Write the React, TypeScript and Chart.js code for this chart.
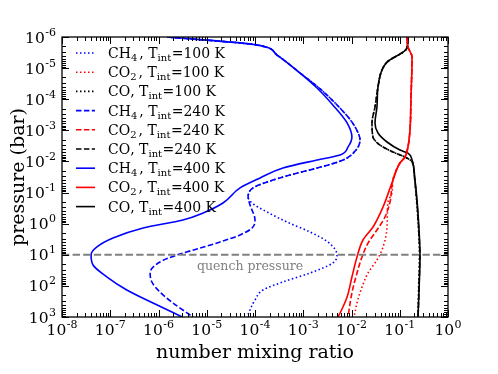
import React, { useEffect, useRef } from "react";
import { Chart, registerables } from "chart.js";
Chart.register(...registerables);

// ---------- data (pressure in bar, number mixing ratio) ----------
const ch4_100_p = [1e-6, 1.81e-6, 3.8e-6, 1.44e-5, 4.05e-5, 1.43e-4, 5.4e-4, 1.41e-3, 2.05e-3, 4.3e-3, 9.0e-3, 1.63e-2, 2.73e-2, 4.6e-2, 7.1e-2, 0.139, 0.217, 0.42, 0.885, 1.85, 3.9, 10.2, 18.4, 38.5, 75, 135, 284, 1000];
const ch4_100_x = [1.5e-6, 1.1e-4, 2.86e-4, 8.6e-4, 2.02e-3, 4.8e-3, 1.02e-2, 1.43e-2, 1.5e-2, 1.24e-2, 6.7e-3, 1.93e-3, 5.3e-4, 1.77e-4, 9.1e-5, 7.2e-5, 8.7e-5, 1.77e-4, 4.6e-4, 1.38e-3, 3.26e-3, 5.0e-3, 4.1e-3, 1.38e-3, 3.8e-4, 1.47e-4, 1.0e-4, 6.8e-5];

const co2_100_p = [6e-7, 1e-6, 2.1e-6, 4.4e-6, 8.5e-5, 9.7e-4, 3.4e-3, 7.2e-3, 0.0112, 0.0395, 0.103, 0.201, 1.28, 5.6, 14.7, 38.5, 109, 355, 1000];
const co2_100_x = [0.135, 0.141, 0.148, 0.18, 0.171, 0.163, 0.148, 0.1285, 0.101, 0.0724, 0.069, 0.057, 0.0545, 0.045, 0.0337, 0.022, 0.0165, 0.013, 0.0113];

const co_100_p = [6e-7, 1e-6, 2.26e-6, 6.4e-6, 1.15e-5, 4.05e-5, 1.78e-4, 5.8e-4, 1.64e-3, 2.97e-3, 4.98e-3, 7.2e-3, 1.04e-2, 2.18e-2, 0.174, 1.6, 10.2, 135, 1000];
const co_100_x = [0.148, 0.148, 0.141, 0.0545, 0.0428, 0.0354, 0.0307, 0.0266, 0.0279, 0.039, 0.0724, 0.1285, 0.18, 0.197, 0.222, 0.245, 0.255, 0.245, 0.237];

const ch4_240_p = [1e-6, 1.81e-6, 3.8e-6, 1.44e-5, 4.05e-5, 1.43e-4, 5.4e-4, 1.41e-3, 2.05e-3, 4.3e-3, 9.0e-3, 1.63e-2, 2.73e-2, 4.6e-2, 7.1e-2, 0.139, 0.251, 0.76, 1.38, 2.3, 3.9, 6.1, 10.2, 17.1, 38.5, 75, 157, 355, 1000];
const ch4_240_x = [1.5e-6, 1.1e-4, 2.86e-4, 8.6e-4, 2.02e-3, 4.8e-3, 1.02e-2, 1.43e-2, 1.5e-2, 1.24e-2, 6.7e-3, 1.93e-3, 5.3e-4, 1.77e-4, 9.1e-5, 7.2e-5, 7.9e-5, 1.0e-4, 8.7e-5, 4.9e-5, 1.88e-5, 7.2e-6, 2.4e-6, 1.07e-6, 6.7e-7, 7.3e-7, 1.07e-6, 2.0e-6, 5.2e-6];

const co2_240_p = [6e-7, 1e-6, 2.1e-6, 4.4e-6, 8.5e-5, 9.7e-4, 3.4e-3, 7.2e-3, 0.0112, 0.0395, 0.201, 0.61, 1.6, 4.2, 11.8, 38.5, 169, 1000];
const co2_240_x = [0.135, 0.141, 0.148, 0.18, 0.171, 0.163, 0.148, 0.1285, 0.101, 0.0724, 0.0628, 0.0494, 0.0337, 0.022, 0.0165, 0.013, 0.0102, 8.45e-3];

const co_240_p = [6e-7, 1e-6, 2.26e-6, 6.4e-6, 1.15e-5, 4.05e-5, 1.78e-4, 5.8e-4, 1.64e-3, 2.97e-3, 4.98e-3, 7.2e-3, 1.04e-2, 2.18e-2, 0.174, 1.6, 10.2, 135, 1000];
const co_240_x = [0.148, 0.148, 0.141, 0.0545, 0.0428, 0.0354, 0.0307, 0.0266, 0.0279, 0.039, 0.0724, 0.1285, 0.18, 0.197, 0.225, 0.248, 0.26, 0.25, 0.24];

const ch4_400_p = [1e-6, 1.81e-6, 3.8e-6, 1.44e-5, 4.36e-5, 1.53e-4, 5.8e-4, 1.64e-3, 3.4e-3, 6.2e-3, 9.0e-3, 1.63e-2, 3.4e-2, 7.1e-2, 0.217, 0.454, 0.76, 1.38, 2.9, 5.6, 10.2, 21.3, 51.9, 135, 355, 1000];
const ch4_400_x = [1.5e-6, 1.1e-4, 2.86e-4, 8.6e-4, 1.93e-3, 4.1e-3, 8.1e-3, 1.02e-2, 8.5e-3, 5.8e-3, 1.93e-3, 3.8e-4, 1.27e-4, 4.9e-5, 2.17e-5, 8.4e-6, 3.2e-6, 4.8e-7, 1.14e-7, 5.3e-8, 4.0e-8, 4.4e-8, 8.6e-8, 2.2e-7, 7.7e-7, 3.1e-6];

const co2_400_p = [6e-7, 1e-6, 2.1e-6, 4.4e-6, 8.5e-5, 9.7e-4, 3.4e-3, 7.2e-3, 0.0112, 0.0395, 0.291, 1.28, 3.35, 11.8, 51.9, 228, 745, 1000];
const co2_400_x = [0.135, 0.141, 0.148, 0.18, 0.171, 0.163, 0.148, 0.1285, 0.101, 0.0724, 0.045, 0.0279, 0.0173, 0.013, 0.0102, 8.1e-3, 5.8e-3, 5.25e-3];

const co_400_p = [6e-7, 1e-6, 2.26e-6, 6.4e-6, 1.15e-5, 4.05e-5, 1.78e-4, 5.8e-4, 1.22e-3, 2.37e-3, 4.3e-3, 5.4e-3, 9.0e-3, 0.0395, 0.174, 1.6, 10.2, 135, 1000];
const co_400_x = [0.148, 0.148, 0.141, 0.0545, 0.0428, 0.0354, 0.0337, 0.0307, 0.0354, 0.0545, 0.101, 0.148, 0.18, 0.207, 0.228, 0.251, 0.263, 0.251, 0.239];

// legend pieces
const speciesBase = ["CH", "CO", "CO"];
const speciesSub = ["4", "2", ""];
const tintValues = [100, 240, 400];

// axes
const xMin = 1e-8, xMax = 1;
const yMin = 1e-6, yMax = 1e3;
const xTickExponents = [-8, -7, -6, -5, -4, -3, -2, -1, 0];
const yTickExponents = [-6, -5, -4, -3, -2, -1, 0, 1, 2, 3];
const xTitle = "number mixing ratio";
const yTitle = "pressure (bar)";
const quenchPressure = 10;
const quenchLabel = "quench pressure";

const SERIF = "'DejaVu Serif', serif";
const colors = ["#0000ff", "#ff0000", "#000000"];
const dashes = [[1.5, 2.5], [5.5, 2.4], []];

const seriesP = [ch4_100_p, co2_100_p, co_100_p, ch4_240_p, co2_240_p, co_240_p, ch4_400_p, co2_400_p, co_400_p];
const seriesX = [ch4_100_x, co2_100_x, co_100_x, ch4_240_x, co2_240_x, co_240_x, ch4_400_x, co2_400_x, co_400_x];

function drawPow(ctx: CanvasRenderingContext2D, exp: number, x: number, baseY: number, align: "center" | "right") {
  ctx.font = `15.5px ${SERIF}`;
  const wb = ctx.measureText("10").width;
  ctx.font = `11px ${SERIF}`;
  const es = String(exp);
  const we = ctx.measureText(es).width;
  const total = wb + we + 0.5;
  const x0 = align === "center" ? x - total / 2 : x - total;
  ctx.textAlign = "left";
  ctx.textBaseline = "alphabetic";
  ctx.font = `15.5px ${SERIF}`;
  ctx.fillText("10", x0, baseY);
  ctx.font = `11px ${SERIF}`;
  ctx.fillText(es, x0 + wb + 0.5, baseY - 7);
}

const axesPlugin = {
  id: "mplAxes",
  afterDatasetsDraw(chart: any) {
    const ctx: CanvasRenderingContext2D = chart.ctx;
    const a = chart.chartArea;
    const xs = chart.scales.x;
    const ys = chart.scales.y;
    ctx.save();

    // quench line
    const qy = ys.getPixelForValue(quenchPressure);
    ctx.strokeStyle = "#808080";
    ctx.lineWidth = 2;
    ctx.setLineDash([7.4, 3.2]);
    ctx.beginPath();
    ctx.moveTo(a.left, qy);
    ctx.lineTo(a.right, qy);
    ctx.stroke();
    ctx.setLineDash([]);
    ctx.fillStyle = "#808080";
    ctx.font = `12.5px ${SERIF}`;
    ctx.textAlign = "center";
    ctx.textBaseline = "alphabetic";
    ctx.fillText(quenchLabel, (a.left + a.right) / 2 - 5, qy + 15);

    // frame
    ctx.strokeStyle = "#000";
    ctx.lineWidth = 1.3;
    ctx.strokeRect(a.left, a.top, a.right - a.left, a.bottom - a.top);

    // ticks
    ctx.lineWidth = 1;
    ctx.beginPath();
    for (const e of xTickExponents) {
      for (let m = 1; m <= 9; m++) {
        const v = m * Math.pow(10, e);
        if (v > xMax * 1.0001) break;
        const px = Math.round(xs.getPixelForValue(v)) + 0.5;
        const len = m === 1 ? 7 : 4;
        ctx.moveTo(px, a.bottom); ctx.lineTo(px, a.bottom - len);
        ctx.moveTo(px, a.top); ctx.lineTo(px, a.top + len);
      }
    }
    for (const e of yTickExponents) {
      for (let m = 1; m <= 9; m++) {
        const v = m * Math.pow(10, e);
        if (v > yMax * 1.0001) break;
        const py = Math.round(ys.getPixelForValue(v)) + 0.5;
        const len = m === 1 ? 7 : 4;
        ctx.moveTo(a.left, py); ctx.lineTo(a.left + len, py);
        ctx.moveTo(a.right, py); ctx.lineTo(a.right - len, py);
      }
    }
    ctx.stroke();

    // tick labels
    ctx.fillStyle = "#000";
    for (const e of xTickExponents) {
      drawPow(ctx, e, xs.getPixelForValue(Math.pow(10, e)), a.bottom + 18, "center");
    }
    for (const e of yTickExponents) {
      drawPow(ctx, e, a.left - 6, ys.getPixelForValue(Math.pow(10, e)) + 5.5, "right");
    }

    // axis titles
    ctx.font = `19px ${SERIF}`;
    ctx.textAlign = "center";
    ctx.textBaseline = "alphabetic";
    ctx.fillText(xTitle, (a.left + a.right) / 2, 358);
    ctx.save();
    ctx.translate(24, (a.top + a.bottom) / 2);
    ctx.rotate(-Math.PI / 2);
    ctx.fillText(yTitle, 0, 0);
    ctx.restore();

    // legend
    const ds = chart.data.datasets;
    for (let i = 0; i < ds.length; i++) {
      const cy = 53 + i * 19.2;
      ctx.strokeStyle = ds[i].borderColor;
      ctx.lineWidth = ds[i].borderWidth;
      ctx.setLineDash(ds[i].borderDash || []);
      ctx.beginPath();
      ctx.moveTo(76, cy);
      ctx.lineTo(95, cy);
      ctx.stroke();
      ctx.setLineDash([]);
      const sp = i % 3;
      const tv = tintValues[Math.floor(i / 3)];
      let x = 108;
      const base = cy + 5;
      ctx.fillStyle = "#000";
      ctx.textAlign = "left";
      ctx.font = `14px ${SERIF}`;
      ctx.fillText(speciesBase[sp], x, base);
      x += ctx.measureText(speciesBase[sp]).width;
      if (speciesSub[sp]) {
        ctx.font = `10px ${SERIF}`;
        ctx.fillText(speciesSub[sp], x, base + 3);
        x += ctx.measureText(speciesSub[sp]).width + 2;
      }
      ctx.font = `14px ${SERIF}`;
      ctx.fillText(", T", x, base);
      x += ctx.measureText(", T").width;
      ctx.font = `10px ${SERIF}`;
      ctx.fillText("int", x, base + 3);
      x += ctx.measureText("int").width + 0.5;
      ctx.font = `14px ${SERIF}`;
      ctx.fillText(`=${tv} K`, x, base);
    }
    ctx.restore();
  },
};

export default function App() {
  const ref = useRef<HTMLCanvasElement | null>(null);
  useEffect(() => {
    document.body.style.margin = "0";
    const canvas = ref.current!;
    const datasets = seriesP.map((ps, i) => ({
      label: `${speciesBase[i % 3]}${speciesSub[i % 3]}, Tint=${tintValues[Math.floor(i / 3)]} K`,
      data: ps.map((p, j) => ({ x: seriesX[i][j], y: p })),
      borderColor: colors[i % 3],
      borderDash: dashes[Math.floor(i / 3)],
      borderWidth: 1.6,
      pointRadius: 0,
      fill: false,
      cubicInterpolationMode: "monotone" as const,
      clip: 0,
    }));
    const chart = new Chart(canvas, {
      type: "line",
      data: { datasets },
      options: {
        animation: false,
        responsive: false,
        indexAxis: "y",
        events: [],
        layout: { padding: { left: 62, right: 50, top: 37, bottom: 57 } },
        plugins: { legend: { display: false }, tooltip: { enabled: false } },
        scales: {
          x: { type: "logarithmic", display: false, min: xMin, max: xMax },
          y: { type: "logarithmic", display: false, min: yMin, max: yMax, reverse: true },
        },
      },
      plugins: [axesPlugin],
    });
    return () => chart.destroy();
  }, []);
  return <canvas ref={ref} width={498} height={374} style={{ display: "block" }} />;
}
